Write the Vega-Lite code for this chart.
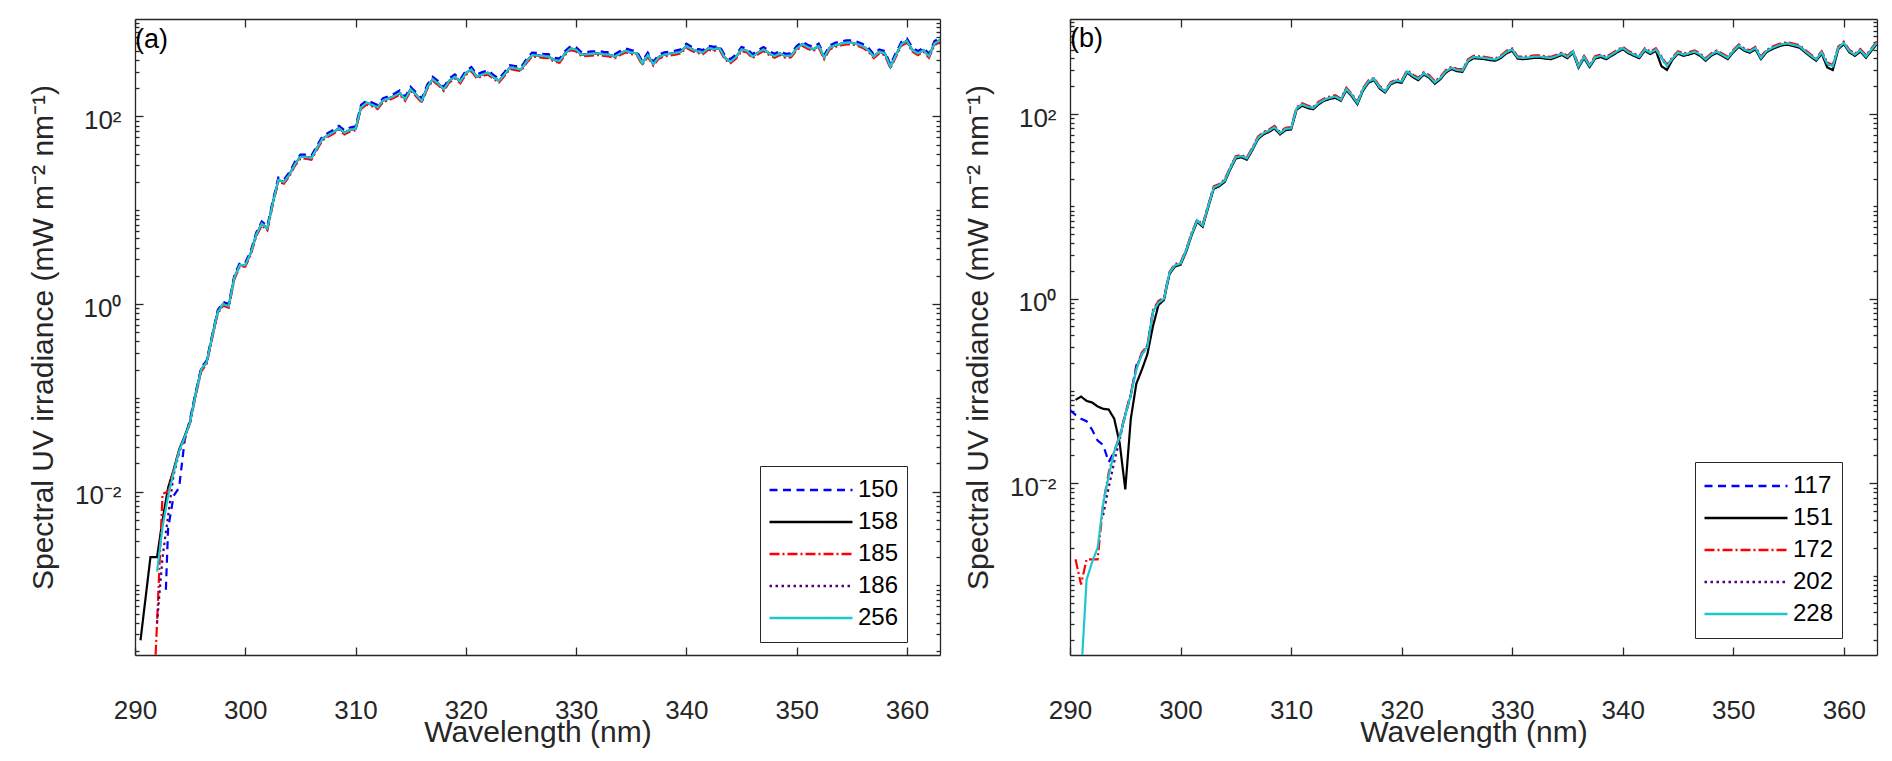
{
"$schema": "https://vega.github.io/schema/vega-lite/v6.json",
"background": "white",
"padding": {"left": 28, "top": 12, "right": 5, "bottom": 5},
"config": {
  "view": {"stroke": null},
  "font": "Liberation Sans",
  "axis": {"grid": false, "labelFont": "Liberation Sans", "labelFontSize": 26, "labelColor": "#262626", "domainColor": "#262626", "domainWidth": 1.3, "tickColor": "#262626", "tickWidth": 1.3, "titleFont": "Liberation Sans", "titleFontSize": 30, "titleFontWeight": "normal", "titleColor": "#262626", "labelOverlap": false, "labelFlush": false},
  "legend": {"labelFont": "Liberation Sans"},
  "title": {"font": "Liberation Sans"}
},
"resolve": {"scale": {"color": "independent", "strokeDash": "independent"}, "legend": {"color": "independent", "strokeDash": "independent"}},
"datasets": {
"a": [
{"w":300,"150":2.75,"158":2.6,"185":2.5,"186":2.6,"256":2.6},
{"w":290.5,"158":0.00026},
{"w":291.4,"158":0.002},
{"w":291.5,"185":0.00002},
{"w":292,"158":0.002,"185":0.0004,"186":0.0004,"256":0.0014},
{"w":292.5,"158":0.005,"185":0.0095,"186":0.002,"256":0.0042},
{"w":292.8,"150":0.0009},
{"w":293,"150":0.004,"158":0.011,"185":0.01,"186":0.0055,"256":0.009},
{"w":293.5,"150":0.009,"158":0.017,"185":0.017,"186":0.015,"256":0.016},
{"w":294,"150":0.011,"158":0.028,"185":0.027,"186":0.026,"256":0.027},
{"w":294.5,"150":0.035,"158":0.039,"185":0.037,"186":0.038,"256":0.038},
{"w":295,"150":0.06,"158":0.056,"185":0.054,"186":0.055,"256":0.055},
{"w":295.5,"150":0.115,"158":0.11,"185":0.105,"186":0.11,"256":0.11},
{"w":296,"150":0.21,"158":0.2,"185":0.19,"186":0.2,"256":0.2},
{"w":296.5,"150":0.25,"158":0.24,"185":0.23,"186":0.24,"256":0.24},
{"w":297,"150":0.47,"158":0.45,"185":0.43,"186":0.45,"256":0.45},
{"w":297.5,"150":0.86,"158":0.82,"185":0.79,"186":0.82,"256":0.82},
{"w":298,"150":1.05,"158":1.0,"185":0.96,"186":1.0,"256":1.0},
{"w":298.5,"150":1.0,"158":0.95,"185":0.91,"186":0.95,"256":0.95},
{"w":299,"150":2.0,"158":1.9,"185":1.82,"186":1.9,"256":1.9},
{"w":299.5,"150":2.75,"158":2.6,"185":2.5,"186":2.6,"256":2.6},
{"w":300.5,"150":3.7,"158":3.5,"185":3.36,"186":3.5,"256":3.5},
{"w":301,"150":5.8,"158":5.5,"185":5.3,"186":5.5,"256":5.5},
{"w":301.5,"150":7.6,"158":7.2,"185":6.9,"186":7.2,"256":7.2},
{"w":302,"150":6.8,"158":6.4,"185":6.1,"186":6.4,"256":6.4},
{"w":302.5,"150":12.7,"158":12,"185":11.5,"186":12,"256":12},
{"w":303,"150":22.3,"158":21,"185":20.2,"186":21,"256":21},
{"w":303.5,"150":21.2,"158":20,"185":19.2,"186":20,"256":20},
{"w":304,"150":25.4,"158":24,"185":23,"186":24,"256":24},
{"w":304.5,"150":32.9,"158":31,"185":29.8,"186":31,"256":31},
{"w":305,"150":39.2,"158":37,"185":35.5,"186":37,"256":37},
{"w":305.5,"150":39.2,"158":37,"185":35.5,"186":37,"256":37},
{"w":306,"150":38.2,"158":36,"185":34.6,"186":36,"256":36},
{"w":306.5,"150":48.8,"158":46,"185":44.2,"186":46,"256":46},
{"w":307,"150":61.5,"158":58,"185":55.7,"186":58,"256":58},
{"w":307.5,"150":66.8,"158":63,"185":60.5,"186":63,"256":63},
{"w":308,"150":72,"158":68,"185":65.3,"186":68,"256":68},
{"w":308.5,"150":79.5,"158":75,"185":72,"186":75,"256":75},
{"w":309,"150":71,"158":67,"185":64.3,"186":67,"256":67},
{"w":309.5,"150":76.3,"158":72,"185":69.1,"186":72,"256":72},
{"w":310,"150":78.4,"158":74,"185":71,"186":74,"256":74},
{"w":310.5,"150":132.5,"158":125,"185":120,"186":125,"256":125},
{"w":311,"150":148,"158":140,"185":134,"186":140,"256":140},
{"w":311.5,"150":141,"158":133,"185":128,"186":133,"256":133},
{"w":312,"150":132.5,"158":125,"185":120,"186":125,"256":125},
{"w":312.5,"150":157,"158":148,"185":142,"186":148,"256":148},
{"w":313,"150":164,"158":155,"185":149,"186":155,"256":155},
{"w":313.5,"150":175,"158":165,"185":158,"186":165,"256":165},
{"w":314,"150":189,"158":178,"185":171,"186":178,"256":178},
{"w":314.5,"150":162,"158":153,"185":147,"186":153,"256":153},
{"w":315,"150":207,"158":195,"185":187,"186":195,"256":195},
{"w":315.5,"150":180,"158":170,"185":163,"186":170,"256":170},
{"w":316,"150":155,"158":146,"185":140,"186":146,"256":146},
{"w":316.5,"150":217,"158":205,"185":197,"186":205,"256":205},
{"w":317,"150":265,"158":250,"185":240,"186":250,"256":250},
{"w":317.5,"150":238,"158":225,"185":216,"186":225,"256":225},
{"w":318,"150":207,"158":195,"185":187,"186":195,"256":195},
{"w":318.5,"150":254,"158":240,"185":230,"186":240,"256":240},
{"w":319,"150":281,"158":265,"185":254,"186":265,"256":265},
{"w":319.5,"150":249,"158":235,"185":226,"186":235,"256":235},
{"w":320,"150":307,"158":290,"185":278,"186":290,"256":290},
{"w":320.5,"150":336,"158":317,"185":304,"186":317,"256":317},
{"w":321,"150":281,"158":265,"185":254,"186":265,"256":265},
{"w":321.5,"150":297,"158":280,"185":269,"186":280,"256":280},
{"w":322,"150":310,"158":292,"185":280,"186":292,"256":292},
{"w":322.5,"150":278,"158":262,"185":252,"186":262,"256":262},
{"w":323,"150":254,"158":240,"185":230,"186":240,"256":240},
{"w":323.5,"150":297,"158":280,"185":269,"186":280,"256":280},
{"w":324,"150":353,"158":333,"185":320,"186":333,"256":333},
{"w":324.5,"150":345,"158":325,"185":312,"186":325,"256":325},
{"w":325,"150":336,"158":317,"185":304,"186":317,"256":317},
{"w":325.5,"150":408,"158":385,"185":370,"186":385,"256":385},
{"w":326,"150":479,"158":452,"185":434,"186":452,"256":452},
{"w":326.5,"150":475,"158":448,"185":430,"186":448,"256":448},
{"w":327,"150":466,"158":440,"185":422,"186":440,"256":440},
{"w":327.5,"150":461,"158":435,"185":418,"186":435,"256":435},
{"w":328,"150":424,"158":400,"185":384,"186":400,"256":400},
{"w":328.5,"150":413,"158":390,"185":374,"186":390,"256":390},
{"w":329,"150":498,"158":470,"185":451,"186":470,"256":470},
{"w":329.5,"150":562,"158":530,"185":509,"186":530,"256":530},
{"w":330,"150":546,"158":515,"185":494,"186":515,"256":515},
{"w":330.5,"150":482,"158":455,"185":437,"186":455,"256":455},
{"w":331,"150":488,"158":460,"185":442,"186":460,"256":460},
{"w":331.5,"150":493,"158":465,"185":446,"186":465,"256":465},
{"w":332,"150":498,"158":470,"185":451,"186":470,"256":470},
{"w":332.5,"150":488,"158":460,"185":442,"186":460,"256":460},
{"w":333,"150":482,"158":455,"185":437,"186":455,"256":455},
{"w":333.5,"150":461,"158":435,"185":418,"186":435,"256":435},
{"w":334,"150":498,"158":470,"185":451,"186":470,"256":470},
{"w":334.5,"150":530,"158":500,"185":480,"186":500,"256":500},
{"w":335,"150":509,"158":480,"185":461,"186":480,"256":480},
{"w":335.5,"150":498,"158":470,"185":451,"186":470,"256":470},
{"w":336,"150":390,"158":368,"185":353,"186":368,"256":368},
{"w":336.5,"150":479,"158":452,"185":434,"186":452,"256":452},
{"w":337,"150":384,"158":362,"185":348,"186":362,"256":362},
{"w":337.5,"150":456,"158":430,"185":413,"186":430,"256":430},
{"w":338,"150":482,"158":455,"185":437,"186":455,"256":455},
{"w":338.5,"150":493,"158":465,"185":446,"186":465,"256":465},
{"w":339,"150":504,"158":475,"185":456,"186":475,"256":475},
{"w":339.5,"150":519,"158":490,"185":470,"186":490,"256":490},
{"w":340,"150":597,"158":563,"185":540,"186":563,"256":563},
{"w":340.5,"150":551,"158":520,"185":499,"186":520,"256":520},
{"w":341,"150":525,"158":495,"185":475,"186":495,"256":495},
{"w":341.5,"150":509,"158":480,"185":461,"186":480,"256":480},
{"w":342,"150":567,"158":535,"185":514,"186":535,"256":535},
{"w":342.5,"150":551,"158":520,"185":499,"186":520,"256":520},
{"w":343,"150":567,"158":535,"185":514,"186":535,"256":535},
{"w":343.5,"150":445,"158":420,"185":403,"186":420,"256":420},
{"w":344,"150":408,"158":385,"185":370,"186":385,"256":385},
{"w":344.5,"150":456,"158":430,"185":413,"186":430,"256":430},
{"w":345,"150":550,"158":519,"185":498,"186":519,"256":519},
{"w":345.5,"150":530,"158":500,"185":480,"186":500,"256":500},
{"w":346,"150":461,"158":435,"185":418,"186":435,"256":435},
{"w":346.5,"150":509,"158":480,"185":461,"186":480,"256":480},
{"w":347,"150":550,"158":519,"185":498,"186":519,"256":519},
{"w":347.5,"150":498,"158":470,"185":451,"186":470,"256":470},
{"w":348,"150":466,"158":440,"185":422,"186":440,"256":440},
{"w":348.5,"150":498,"158":470,"185":451,"186":470,"256":470},
{"w":349,"150":466,"158":440,"185":422,"186":440,"256":440},
{"w":349.5,"150":472,"158":445,"185":427,"186":445,"256":445},
{"w":350,"150":562,"158":530,"185":509,"186":530,"256":530},
{"w":350.5,"150":625,"158":590,"185":566,"186":590,"256":590},
{"w":351,"150":583,"158":550,"185":528,"186":550,"256":550},
{"w":351.5,"150":550,"158":519,"185":498,"186":519,"256":519},
{"w":352,"150":597,"158":563,"185":540,"186":563,"256":563},
{"w":352.5,"150":452,"158":426,"185":409,"186":426,"256":426},
{"w":353,"150":572,"158":540,"185":518,"186":540,"256":540},
{"w":353.5,"150":610,"158":575,"185":552,"186":575,"256":575},
{"w":354,"150":631,"158":595,"185":571,"186":595,"256":595},
{"w":354.5,"150":647,"158":610,"185":586,"186":610,"256":610},
{"w":355,"150":647,"158":610,"185":586,"186":610,"256":610},
{"w":355.5,"150":625,"158":590,"185":566,"186":590,"256":590},
{"w":356,"150":594,"158":560,"185":538,"186":560,"256":560},
{"w":356.5,"150":541,"158":510,"185":490,"186":510,"256":510},
{"w":357,"150":461,"158":435,"185":418,"186":435,"256":435},
{"w":357.5,"150":519,"158":490,"185":470,"186":490,"256":490},
{"w":358,"150":498,"158":470,"185":451,"186":470,"256":470},
{"w":358.5,"150":359,"158":339,"185":325,"186":339,"256":339},
{"w":359,"150":477,"158":450,"185":432,"186":450,"256":450},
{"w":359.5,"150":625,"158":590,"185":566,"186":590,"256":590},
{"w":360,"150":678,"158":640,"185":614,"186":640,"256":640},
{"w":360.5,"150":541,"158":510,"185":490,"186":510,"256":510},
{"w":361,"150":498,"158":470,"185":451,"186":470,"256":470},
{"w":361.5,"150":541,"158":510,"185":490,"186":510,"256":510},
{"w":362,"150":466,"158":440,"185":422,"186":440,"256":440},
{"w":362.5,"150":636,"158":600,"185":576,"186":600,"256":600},
{"w":363,"150":689,"158":650,"185":624,"186":650,"256":650}
],
"b": [
{"w":300,"117":2.4,"151":2.33,"172":2.47,"202":2.4,"228":2.4},
{"w":290,"117":0.062},
{"w":290.5,"117":0.055,"151":0.08,"172":0.0015},
{"w":291,"117":0.05,"151":0.087,"172":0.0008,"228":0.00008},
{"w":291.5,"117":0.047,"151":0.078,"172":0.0015,"228":0.0009},
{"w":292,"117":0.038,"151":0.075,"172":0.0015,"228":0.0014},
{"w":292.5,"117":0.029,"151":0.068,"172":0.0015,"228":0.002},
{"w":293,"117":0.026,"151":0.064,"172":0.006,"202":0.0045,"228":0.006},
{"w":293.5,"117":0.017,"151":0.063,"172":0.013,"202":0.009,"228":0.012},
{"w":294,"117":0.022,"151":0.05,"172":0.022,"202":0.017,"228":0.022},
{"w":294.5,"117":0.032,"151":0.027,"172":0.033,"202":0.03,"228":0.032},
{"w":295,"117":0.055,"151":0.0086,"172":0.057,"202":0.055,"228":0.055},
{"w":295.5,"117":0.09,"151":0.05,"172":0.094,"202":0.09,"228":0.09},
{"w":296,"117":0.19,"151":0.12,"172":0.177,"202":0.18,"228":0.17},
{"w":296.5,"117":0.25,"151":0.17,"172":0.26,"202":0.25,"228":0.25},
{"w":297,"117":0.31,"151":0.25,"172":0.31,"202":0.3,"228":0.3},
{"w":297.5,"117":0.72,"151":0.5,"172":0.75,"202":0.72,"228":0.72},
{"w":298,"117":0.9,"151":0.85,"172":0.94,"202":0.9,"228":0.9},
{"w":298.5,"117":1.0,"151":0.97,"172":1.03,"202":1.0,"228":1.0},
{"w":299,"117":1.9,"151":1.85,"172":1.95,"202":1.9,"228":1.9},
{"w":299.5,"117":2.3,"151":2.23,"172":2.37,"202":2.3,"228":2.3},
{"w":300.5,"117":3.3,"151":3.2,"172":3.4,"202":3.3,"228":3.3},
{"w":301,"117":5.0,"151":4.85,"172":5.15,"202":5.0,"228":5.0},
{"w":301.5,"117":7.0,"151":6.8,"172":7.2,"202":7.0,"228":7.0},
{"w":302,"117":6.2,"151":6.0,"172":6.4,"202":6.2,"228":6.2},
{"w":302.5,"117":10,"151":9.7,"172":10.3,"202":10,"228":10},
{"w":303,"117":16,"151":15.5,"172":16.5,"202":16,"228":16},
{"w":303.5,"117":17,"151":16.5,"172":17.5,"202":17,"228":17},
{"w":304,"117":19,"151":18.4,"172":19.6,"202":19,"228":19},
{"w":304.5,"117":26,"151":25.2,"172":26.8,"202":26,"228":26},
{"w":305,"117":34,"151":33,"172":35,"202":34,"228":34},
{"w":305.5,"117":35,"151":34,"172":36,"202":35,"228":35},
{"w":306,"117":33,"151":32,"172":34,"202":33,"228":33},
{"w":306.5,"117":42,"151":40.7,"172":43.3,"202":42,"228":42},
{"w":307,"117":55,"151":53.4,"172":56.7,"202":55,"228":55},
{"w":307.5,"117":62,"151":60.1,"172":63.9,"202":62,"228":62},
{"w":308,"117":66,"151":64,"172":68,"202":66,"228":66},
{"w":308.5,"117":72,"151":69.8,"172":74.2,"202":72,"228":72},
{"w":309,"117":62,"151":60.1,"172":63.9,"202":62,"228":62},
{"w":309.5,"117":69,"151":67,"172":71,"202":69,"228":69},
{"w":310,"117":70,"151":68,"172":72,"202":70,"228":70},
{"w":310.5,"117":115,"151":111.5,"172":118.5,"202":115,"228":115},
{"w":311,"117":127,"151":123,"172":131,"202":127,"228":127},
{"w":311.5,"117":120,"151":116.4,"172":123.6,"202":120,"228":120},
{"w":312,"117":116,"151":112.5,"172":119.5,"202":116,"228":116},
{"w":312.5,"117":132,"151":128,"172":136,"202":132,"228":132},
{"w":313,"117":143,"151":139,"172":147,"202":143,"228":143},
{"w":313.5,"117":150,"151":145.5,"172":154.5,"202":150,"228":150},
{"w":314,"117":155,"151":150,"172":160,"202":155,"228":155},
{"w":314.5,"117":143,"151":139,"172":147,"202":143,"228":143},
{"w":315,"117":187,"151":181,"172":193,"202":187,"228":187},
{"w":315.5,"117":160,"151":155,"172":165,"202":160,"228":160},
{"w":316,"117":132,"151":128,"172":136,"202":132,"228":132},
{"w":316.5,"117":185,"151":179,"172":191,"202":185,"228":185},
{"w":317,"117":225,"151":218,"172":232,"202":225,"228":225},
{"w":317.5,"117":240,"151":233,"172":247,"202":240,"228":240},
{"w":318,"117":195,"151":189,"172":201,"202":195,"228":195},
{"w":318.5,"117":176,"151":171,"172":181,"202":176,"228":176},
{"w":319,"117":215,"151":209,"172":221,"202":215,"228":215},
{"w":319.5,"117":230,"151":223,"172":237,"202":230,"228":230},
{"w":320,"117":225,"151":218,"172":232,"202":225,"228":225},
{"w":320.5,"117":290,"151":281,"172":299,"202":290,"228":290},
{"w":321,"117":260,"151":252,"172":268,"202":260,"228":260},
{"w":321.5,"117":240,"151":233,"172":247,"202":240,"228":240},
{"w":322,"117":275,"151":267,"172":283,"202":275,"228":275},
{"w":322.5,"117":255,"151":247,"172":263,"202":255,"228":255},
{"w":323,"117":220,"151":213,"172":227,"202":220,"228":220},
{"w":323.5,"117":245,"151":238,"172":252,"202":245,"228":245},
{"w":324,"117":290,"151":281,"172":299,"202":290,"228":290},
{"w":324.5,"117":316,"151":307,"172":325,"202":316,"228":316},
{"w":325,"117":300,"151":291,"172":309,"202":300,"228":300},
{"w":325.5,"117":295,"151":286,"172":304,"202":295,"228":295},
{"w":326,"117":380,"151":369,"172":391,"202":380,"228":380},
{"w":326.5,"117":415,"151":403,"172":427,"202":415,"228":415},
{"w":327,"117":410,"151":398,"172":422,"202":410,"228":410},
{"w":327.5,"117":405,"151":393,"172":417,"202":405,"228":405},
{"w":328,"117":395,"151":383,"172":407,"202":395,"228":395},
{"w":328.5,"117":390,"151":378,"172":402,"202":390,"228":390},
{"w":329,"117":420,"151":407,"172":433,"202":420,"228":420},
{"w":329.5,"117":470,"151":456,"172":484,"202":470,"228":470},
{"w":330,"117":498,"151":483,"172":513,"202":498,"228":498},
{"w":330.5,"117":410,"151":398,"172":422,"202":410,"228":410},
{"w":331,"117":405,"151":393,"172":417,"202":405,"228":405},
{"w":331.5,"117":410,"151":398,"172":422,"202":410,"228":410},
{"w":332,"117":418,"151":405,"172":431,"202":418,"228":418},
{"w":332.5,"117":420,"151":407,"172":433,"202":420,"228":420},
{"w":333,"117":410,"151":398,"172":422,"202":410,"228":410},
{"w":333.5,"117":405,"151":393,"172":417,"202":405,"228":405},
{"w":334,"117":425,"151":412,"172":438,"202":425,"228":425},
{"w":334.5,"117":450,"151":437,"172":464,"202":450,"228":450},
{"w":335,"117":415,"151":403,"172":427,"202":415,"228":415},
{"w":335.5,"117":475,"151":461,"172":489,"202":475,"228":475},
{"w":336,"117":328,"151":318,"172":338,"202":328,"228":328},
{"w":336.5,"117":415,"151":403,"172":427,"202":415,"228":415},
{"w":337,"117":333,"151":323,"172":343,"202":333,"228":333},
{"w":337.5,"117":410,"151":398,"172":422,"202":410,"228":410},
{"w":338,"117":428,"151":415,"172":441,"202":428,"228":428},
{"w":338.5,"117":405,"151":393,"172":417,"202":405,"228":405},
{"w":339,"117":440,"151":427,"172":453,"202":440,"228":440},
{"w":339.5,"117":480,"151":466,"172":494,"202":480,"228":480},
{"w":340,"117":519,"151":503,"172":535,"202":519,"228":519},
{"w":340.5,"117":470,"151":456,"172":484,"202":470,"228":470},
{"w":341,"117":440,"151":427,"172":453,"202":440,"228":440},
{"w":341.5,"117":415,"151":403,"172":427,"202":415,"228":415},
{"w":342,"117":500,"151":485,"172":515,"202":500,"228":500},
{"w":342.5,"117":460,"151":446,"172":474,"202":460,"228":460},
{"w":343,"117":500,"151":485,"172":515,"202":500,"228":500},
{"w":343.5,"117":410,"151":330,"172":422,"202":410,"228":410},
{"w":344,"117":330,"151":300,"172":340,"202":330,"228":330},
{"w":344.5,"117":400,"151":388,"172":412,"202":400,"228":400},
{"w":345,"117":465,"151":451,"172":479,"202":465,"228":465},
{"w":345.5,"117":440,"151":427,"172":453,"202":440,"228":440},
{"w":346,"117":455,"151":441,"172":469,"202":455,"228":455},
{"w":346.5,"117":475,"151":461,"172":489,"202":475,"228":475},
{"w":347,"117":440,"151":427,"172":453,"202":440,"228":440},
{"w":347.5,"117":390,"151":378,"172":402,"202":390,"228":390},
{"w":348,"117":440,"151":427,"172":453,"202":440,"228":440},
{"w":348.5,"117":475,"151":461,"172":489,"202":475,"228":475},
{"w":349,"117":440,"151":427,"172":453,"202":440,"228":440},
{"w":349.5,"117":405,"151":393,"172":417,"202":405,"228":405},
{"w":350,"117":480,"151":466,"172":494,"202":480,"228":480},
{"w":350.5,"117":550,"151":534,"172":567,"202":550,"228":550},
{"w":351,"117":500,"151":485,"172":515,"202":500,"228":500},
{"w":351.5,"117":475,"151":461,"172":489,"202":475,"228":475},
{"w":352,"117":519,"151":503,"172":535,"202":519,"228":519},
{"w":352.5,"117":405,"151":393,"172":417,"202":405,"228":405},
{"w":353,"117":480,"151":466,"172":494,"202":480,"228":480},
{"w":353.5,"117":519,"151":503,"172":535,"202":519,"228":519},
{"w":354,"117":550,"151":534,"172":567,"202":550,"228":550},
{"w":354.5,"117":575,"151":558,"172":592,"202":575,"228":575},
{"w":355,"117":580,"151":563,"172":597,"202":580,"228":580},
{"w":355.5,"117":560,"151":543,"172":577,"202":560,"228":560},
{"w":356,"117":540,"151":524,"172":556,"202":540,"228":540},
{"w":356.5,"117":480,"151":466,"172":494,"202":480,"228":480},
{"w":357,"117":430,"151":417,"172":443,"202":430,"228":430},
{"w":357.5,"117":390,"151":378,"172":402,"202":390,"228":390},
{"w":358,"117":465,"151":451,"172":479,"202":465,"228":465},
{"w":358.5,"117":350,"151":320,"172":360,"202":350,"228":350},
{"w":359,"117":330,"151":300,"172":340,"202":330,"228":330},
{"w":359.5,"117":520,"151":504,"172":536,"202":520,"228":520},
{"w":360,"117":590,"151":572,"172":608,"202":590,"228":590},
{"w":360.5,"117":480,"151":466,"172":494,"202":480,"228":480},
{"w":361,"117":440,"151":427,"172":453,"202":440,"228":440},
{"w":361.5,"117":490,"151":475,"172":505,"202":490,"228":490},
{"w":362,"117":420,"151":407,"172":433,"202":420,"228":420},
{"w":362.5,"117":500,"151":485,"172":515,"202":500,"228":500},
{"w":363,"117":595,"151":577,"172":613,"202":595,"228":595}
]
},
"spacing": 130,
"bounds": "flush",
"hconcat": [
{
  "width": 805, "height": 636,
  "data": {"name": "a"},
  "transform": [{"fold": ["150","158","185","186","256"], "as": ["s","v"]}, {"filter": "isValid(datum.v)"}],
  "title": {"text": "(a)", "anchor": "start", "frame": "group", "orient": "top", "offset": -40, "baseline": "top", "dx": 0, "fontSize": 27, "fontWeight": "normal", "color": "black"},
  "layer": [
    {
      "mark": {"type": "line", "clip": true, "strokeWidth": 2.2},
      "encoding": {
        "x": {"field": "w", "type": "quantitative", "scale": {"domain": [290, 363], "nice": false, "zero": false},
              "axis": {"orient": "bottom", "title": "Wavelength (nm)", "values": [290,300,310,320,330,340,350,360], "tickSize": -8, "labelPadding": 50, "titlePadding": -6}},
        "y": {"field": "v", "type": "quantitative", "scale": {"type": "log", "domain": [0.000181, 1094], "nice": false},
              "axis": {"orient": "left", "title": "Spectral UV irradiance (mW m⁻² nm⁻¹)",
                       "values": [0.0002,0.0003,0.0004,0.0005,0.0006,0.0007,0.0008,0.0009,0.001,0.002,0.003,0.004,0.005,0.006,0.007,0.008,0.009,0.01,0.02,0.03,0.04,0.05,0.06,0.07,0.08,0.09,0.1,0.2,0.3,0.4,0.5,0.6,0.7,0.8,0.9,1,2,3,4,5,6,7,8,9,10,20,30,40,50,60,70,80,90,100,200,300,400,500,600,700,800,900,1000],
                       "labelExpr": "datum.value == 0.01 ? '10⁻²' : datum.value == 1 ? '10⁰' : datum.value == 100 ? '10²' : ''",
                       "tickSize": {"condition": {"test": "datum.value == 0.01 || datum.value == 1 || datum.value == 100", "value": -8}, "value": -4},
                       "labelPadding": 22, "labelOffset": 4, "titlePadding": 16}},
        "color": {"field": "s", "type": "nominal",
                  "scale": {"domain": ["150","158","185","186","256"], "range": ["#0000FF","#000000","#FF0000","#4B0082","#1CC7D0"]},
                  "legend": {"title": null, "orient": "none", "legendX": 625, "legendY": 447, "symbolType": "stroke", "symbolSize": 6889, "symbolStrokeWidth": 2.5, "clipHeight": 32, "labelFontSize": 24, "labelColor": "black", "labelOffset": 4, "padding": 8, "rowPadding": 0, "strokeColor": "#262626", "fillColor": "white"}},
        "strokeDash": {"field": "s", "type": "nominal",
                  "scale": {"domain": ["150","158","185","186","256"], "range": [[8,5.5],[1,0],[10,3,2,3],[2.5,3.5],[1,0]]},
                  "legend": {"title": null, "orient": "none", "legendX": 625, "legendY": 447, "symbolType": "stroke", "symbolSize": 6889, "symbolStrokeWidth": 2.5, "clipHeight": 32, "labelFontSize": 24, "labelColor": "black", "labelOffset": 4, "padding": 8, "rowPadding": 0, "strokeColor": "#262626", "fillColor": "white"}}
      }
    },
    {
      "mark": {"type": "line", "opacity": 0},
      "encoding": {
        "x": {"field": "w", "type": "quantitative", "scale": {"domain": [290, 363], "nice": false, "zero": false},
              "axis": {"orient": "top", "title": null, "labels": false, "values": [290,300,310,320,330,340,350,360], "tickSize": -8}},
        "y": {"field": "v", "type": "quantitative", "scale": {"type": "log", "domain": [0.000181, 1094], "nice": false},
              "axis": {"orient": "right", "title": null, "labels": false,
                       "values": [0.0002,0.0003,0.0004,0.0005,0.0006,0.0007,0.0008,0.0009,0.001,0.002,0.003,0.004,0.005,0.006,0.007,0.008,0.009,0.01,0.02,0.03,0.04,0.05,0.06,0.07,0.08,0.09,0.1,0.2,0.3,0.4,0.5,0.6,0.7,0.8,0.9,1,2,3,4,5,6,7,8,9,10,20,30,40,50,60,70,80,90,100,200,300,400,500,600,700,800,900,1000],
                       "tickSize": {"condition": {"test": "datum.value == 0.01 || datum.value == 1 || datum.value == 100", "value": -8}, "value": -4}}}
      }
    }
  ],
  "resolve": {"axis": {"x": "independent", "y": "independent"}}
},
{
  "width": 807, "height": 636,
  "data": {"name": "b"},
  "transform": [{"fold": ["117","151","172","202","228"], "as": ["s","v"]}, {"filter": "isValid(datum.v)"}],
  "title": {"text": "(b)", "anchor": "start", "frame": "group", "orient": "top", "offset": -40, "baseline": "top", "dx": 0, "fontSize": 27, "fontWeight": "normal", "color": "black"},
  "layer": [
    {
      "mark": {"type": "line", "clip": true, "strokeWidth": 2.2},
      "encoding": {
        "x": {"field": "w", "type": "quantitative", "scale": {"domain": [290, 363], "nice": false, "zero": false},
              "axis": {"orient": "bottom", "title": "Wavelength (nm)", "values": [290,300,310,320,330,340,350,360], "tickSize": -8, "labelPadding": 50, "titlePadding": -6}},
        "y": {"field": "v", "type": "quantitative", "scale": {"type": "log", "domain": [0.000138, 1070], "nice": false},
              "axis": {"orient": "left", "title": "Spectral UV irradiance (mW m⁻² nm⁻¹)",
                       "values": [0.0002,0.0003,0.0004,0.0005,0.0006,0.0007,0.0008,0.0009,0.001,0.002,0.003,0.004,0.005,0.006,0.007,0.008,0.009,0.01,0.02,0.03,0.04,0.05,0.06,0.07,0.08,0.09,0.1,0.2,0.3,0.4,0.5,0.6,0.7,0.8,0.9,1,2,3,4,5,6,7,8,9,10,20,30,40,50,60,70,80,90,100,200,300,400,500,600,700,800,900,1000],
                       "labelExpr": "datum.value == 0.01 ? '10⁻²' : datum.value == 1 ? '10⁰' : datum.value == 100 ? '10²' : ''",
                       "tickSize": {"condition": {"test": "datum.value == 0.01 || datum.value == 1 || datum.value == 100", "value": -8}, "value": -4},
                       "labelPadding": 22, "labelOffset": 4, "titlePadding": 16}},
        "color": {"field": "s", "type": "nominal",
                  "scale": {"domain": ["117","151","172","202","228"], "range": ["#0000FF","#000000","#FF0000","#4B0082","#1CC7D0"]},
                  "legend": {"title": null, "orient": "none", "legendX": 625, "legendY": 443, "symbolType": "stroke", "symbolSize": 6889, "symbolStrokeWidth": 2.5, "clipHeight": 32, "labelFontSize": 24, "labelColor": "black", "labelOffset": 4, "padding": 8, "rowPadding": 0, "strokeColor": "#262626", "fillColor": "white"}},
        "strokeDash": {"field": "s", "type": "nominal",
                  "scale": {"domain": ["117","151","172","202","228"], "range": [[8,5.5],[1,0],[10,3,2,3],[2.5,3.5],[1,0]]},
                  "legend": {"title": null, "orient": "none", "legendX": 625, "legendY": 443, "symbolType": "stroke", "symbolSize": 6889, "symbolStrokeWidth": 2.5, "clipHeight": 32, "labelFontSize": 24, "labelColor": "black", "labelOffset": 4, "padding": 8, "rowPadding": 0, "strokeColor": "#262626", "fillColor": "white"}}
      }
    },
    {
      "mark": {"type": "line", "opacity": 0},
      "encoding": {
        "x": {"field": "w", "type": "quantitative", "scale": {"domain": [290, 363], "nice": false, "zero": false},
              "axis": {"orient": "top", "title": null, "labels": false, "values": [290,300,310,320,330,340,350,360], "tickSize": -8}},
        "y": {"field": "v", "type": "quantitative", "scale": {"type": "log", "domain": [0.000138, 1070], "nice": false},
              "axis": {"orient": "right", "title": null, "labels": false,
                       "values": [0.0002,0.0003,0.0004,0.0005,0.0006,0.0007,0.0008,0.0009,0.001,0.002,0.003,0.004,0.005,0.006,0.007,0.008,0.009,0.01,0.02,0.03,0.04,0.05,0.06,0.07,0.08,0.09,0.1,0.2,0.3,0.4,0.5,0.6,0.7,0.8,0.9,1,2,3,4,5,6,7,8,9,10,20,30,40,50,60,70,80,90,100,200,300,400,500,600,700,800,900,1000],
                       "tickSize": {"condition": {"test": "datum.value == 0.01 || datum.value == 1 || datum.value == 100", "value": -8}, "value": -4}}}
      }
    }
  ],
  "resolve": {"axis": {"x": "independent", "y": "independent"}}
}
]
}
